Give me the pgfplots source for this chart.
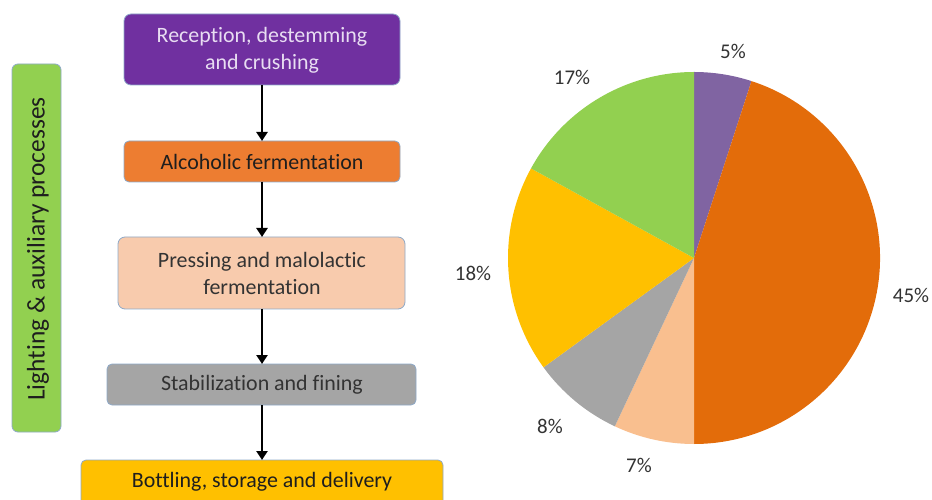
\documentclass[border=0pt]{standalone}
\usepackage{fontspec}
\setmainfont{Carlito}[Ligatures={TeX,NoCommon}]
\usepackage{pgfplots}
\usepackage{pgfplotstable}
\pgfplotsset{compat=1.18}
\usetikzlibrary{arrows.meta}

\definecolor{bpurple}{HTML}{7030A0}
\definecolor{borange}{HTML}{ED7D31}
\definecolor{bpeach}{HTML}{F8CBAD}
\definecolor{bgray}{HTML}{A5A5A5}
\definecolor{byellow}{HTML}{FFC000}
\definecolor{bgreen}{HTML}{92D050}
\definecolor{bborder}{HTML}{8EA9C8}
\definecolor{ptext}{HTML}{E8DDF2}
\definecolor{dtext}{HTML}{1E1E1E}
\definecolor{ltext}{HTML}{333333}

\definecolor{piepurple}{HTML}{8064A2}
\definecolor{pieorange}{HTML}{E36C0A}
\definecolor{piepeach}{HTML}{F9BF8F}
\definecolor{piegray}{HTML}{A5A5A5}
\definecolor{pieyellow}{HTML}{FFC000}
\definecolor{piegreen}{HTML}{92D050}

\pgfplotstableread{
share col
5  piepurple
45 pieorange
7  piepeach
8  piegray
18 pieyellow
17 piegreen
}\piedata

\gdef\piecmds{}
\gdef\piecum{0}
\pgfplotsforeachungrouped \pidx in {0,...,5}{%
  \pgfplotstablegetelem{\pidx}{share}\of\piedata \let\pval\pgfplotsretval
  \pgfplotstablegetelem{\pidx}{col}\of\piedata \let\pcol\pgfplotsretval
  \pgfmathsetmacro\psa{90-3.6*\piecum}%
  \pgfmathsetmacro\pea{90-3.6*(\piecum+\pval)}%
  \pgfmathsetmacro\pnew{\piecum+\pval}%
  \xdef\piecum{\pnew}%
  \xdef\piecmds{\piecmds \noexpand\fill[\pcol] (axis cs:694,258) -- ++(\psa:186bp) arc[start angle=\psa, end angle=\pea, radius=186bp] -- cycle;}%
}

\begin{document}
\begin{tikzpicture}
\begin{axis}[
  hide axis, x=1bp, y=1bp, y dir=reverse,
  xmin=0, xmax=932, ymin=0, ymax=500,
  scale only axis, clip=false,
]
\coordinate (TL) at (axis cs:0,0);
\coordinate (BR) at (axis cs:932,500);
% flowchart boxes
\filldraw[fill=bpurple, draw=bborder, line width=0.8bp, rounded corners=7bp] (axis cs:124,14) rectangle (axis cs:400,85);
\filldraw[fill=borange, draw=bborder, line width=0.8bp, rounded corners=5bp] (axis cs:124,141) rectangle (axis cs:400,182);
\filldraw[fill=bpeach, draw=bborder, line width=0.8bp, rounded corners=7bp] (axis cs:118,237) rectangle (axis cs:405,309);
\filldraw[fill=bgray, draw=bborder, line width=0.8bp, rounded corners=5bp] (axis cs:107,364) rectangle (axis cs:416,405);
\filldraw[fill=byellow, draw=bborder, line width=0.8bp, rounded corners=5bp] (axis cs:81,460) rectangle (axis cs:443,515);
\filldraw[fill=bgreen, draw=bborder, line width=0.8bp, rounded corners=6bp] (axis cs:12,64) rectangle (axis cs:61,432);
% arrows
\draw[line width=2.8bp, -{Triangle[length=9bp,width=11bp]}] (axis cs:262,85) -- (axis cs:262,141);
\draw[line width=2.8bp, -{Triangle[length=9bp,width=11bp]}] (axis cs:262,182) -- (axis cs:262,237);
\draw[line width=2.8bp, -{Triangle[length=9bp,width=11bp]}] (axis cs:262,309) -- (axis cs:262,364);
\draw[line width=2.8bp, -{Triangle[length=9bp,width=11bp]}] (axis cs:262,405) -- (axis cs:262,460);
% texts
\node[font=\fontsize{22}{27}\selectfont, align=center, inner sep=0pt, text=ptext] at (axis cs:262,50) {Reception, destemming\\and crushing};
\node[font=\fontsize{22}{27}\selectfont, align=center, inner sep=0pt, text=dtext] at (axis cs:262,162) {Alcoholic fermentation};
\node[font=\fontsize{22}{27}\selectfont, align=center, inner sep=0pt, text=ltext] at (axis cs:262,273.5) {Pressing and malolactic\\fermentation};
\node[font=\fontsize{22}{27}\selectfont, align=center, inner sep=0pt, text=ltext] at (axis cs:262,385) {Stabilization and fining};
\node[font=\fontsize{22}{27}\selectfont, align=center, inner sep=0pt, text=dtext] at (axis cs:262,482) {Bottling, storage and delivery};
\node[font=\fontsize{25.5}{30}\selectfont, align=center, inner sep=0pt, text=dtext, rotate=90] at (axis cs:38,249) {Lighting \& auxiliary processes};
% pie
\piecmds
\node[font=\fontsize{21}{24}\selectfont, text=ltext, inner sep=0pt] at (axis cs:733,51) {5\%};
\node[font=\fontsize{21}{24}\selectfont, text=ltext, inner sep=0pt] at (axis cs:911,295) {45\%};
\node[font=\fontsize{21}{24}\selectfont, text=ltext, inner sep=0pt] at (axis cs:639,465) {7\%};
\node[font=\fontsize{21}{24}\selectfont, text=ltext, inner sep=0pt] at (axis cs:550,426) {8\%};
\node[font=\fontsize{21}{24}\selectfont, text=ltext, inner sep=0pt] at (axis cs:473,273) {18\%};
\node[font=\fontsize{21}{24}\selectfont, text=ltext, inner sep=0pt] at (axis cs:572,77) {17\%};
\end{axis}
\pgfresetboundingbox
\path[use as bounding box] (TL) rectangle (BR);
\end{tikzpicture}
\end{document}
